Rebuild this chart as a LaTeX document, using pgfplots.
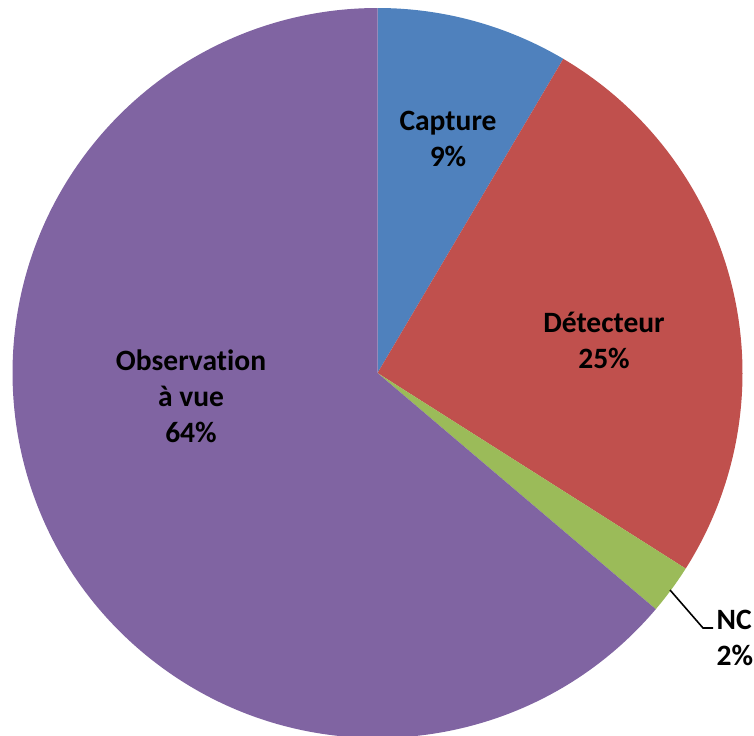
\documentclass[border=0pt]{standalone}
\usepackage{fontspec}
\setmainfont{Carlito}[Ligatures=NoCommon]
\usepackage{pgfplots}
\pgfplotsset{compat=1.18}
\definecolor{cCap}{HTML}{4F81BD}
\definecolor{cDet}{HTML}{C0504D}
\definecolor{cNC}{HTML}{9BBB59}
\definecolor{cObs}{HTML}{8064A2}
\newcommand\cum{0}
\newcommand\slice[2]{%
  \pgfmathsetmacro\sa{90-3.6*\cum}%
  \pgfmathsetmacro\ea{90-3.6*(\cum+#1)}%
  \edef\temp{\noexpand\fill[#2] (axis cs:377.5,362) -- ++(\sa:3.65cm) arc[start angle=\sa, end angle=\ea, radius=3.65cm] -- cycle;}%
  \temp
  \pgfmathsetmacro\newcum{\cum+#1}%
  \xdef\cum{\newcum}%
}
\begin{document}
\begin{tikzpicture}
\begin{axis}[hide axis, scale only axis, width=7.54cm, height=7.35cm,
  xmin=0, xmax=754, ymin=0, ymax=735, clip=false, anchor=south west, at={(0,0)}]
% values in percent: Capture, Detecteur, NC, Observation a vue
\slice{8.5}{cCap}
\slice{25.5}{cDet}
\slice{2.2}{cNC}
\slice{63.8}{cObs}
\begin{scope}[font=\bfseries\fontsize{8.4}{10.2}\selectfont, align=center]
\node at (axis cs:448,596) {Capture\\9\%};
\node at (axis cs:604,395) {Détecteur\\25\%};
\node at (axis cs:191,339) {Observation\\à vue\\64\%};
\node[anchor=west, align=left, inner sep=0pt] at (axis cs:716,97) {NC\\2\%};
\end{scope}
\draw[black, line width=0.45pt] (axis cs:670,145) -- (axis cs:703,107) -- (axis cs:713,107);
\end{axis}
\pgfresetboundingbox
\path (0,0) rectangle (7.54cm,7.35cm);
\end{tikzpicture}
\end{document}
